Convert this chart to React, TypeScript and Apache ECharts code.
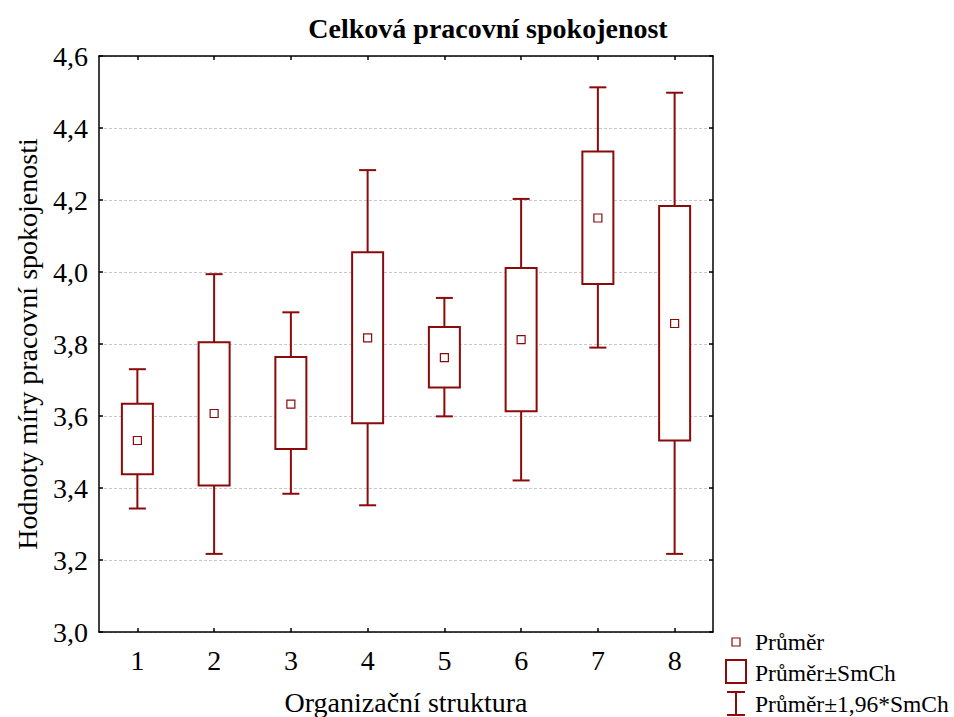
import React, { useEffect, useRef } from "react";
import * as echarts from "echarts";

const categories = ["1", "2", "3", "4", "5", "6", "7", "8"];
const whiskerLow = [3.343, 3.217, 3.384, 3.352, 3.599, 3.421, 3.79, 3.217];
const boxLow = [3.438, 3.407, 3.508, 3.58, 3.679, 3.613, 3.967, 3.532];
const means = [3.532, 3.607, 3.633, 3.817, 3.762, 3.812, 4.15, 3.857];
const boxHigh = [3.634, 3.805, 3.764, 4.055, 3.847, 4.011, 4.335, 4.183];
const whiskerHigh = [3.73, 3.994, 3.888, 4.283, 3.928, 4.203, 4.513, 4.498];
const yTicks = [3.0, 3.2, 3.4, 3.6, 3.8, 4.0, 4.2, 4.4, 4.6];

const RED = "#8b0a0a";
const FONT = "Liberation Serif";

export default function App() {
  const ref = useRef<HTMLDivElement>(null);
  useEffect(() => {
    if (!ref.current) return;
    const chart = echarts.init(ref.current, null, { renderer: "svg" });
    const data = categories.map((c, i) => [
      i,
      whiskerLow[i],
      boxLow[i],
      means[i],
      boxHigh[i],
      whiskerHigh[i],
    ]);
    const axisLine = { show: true, lineStyle: { color: "#000", width: 1.5 } };
    const tick = { show: true, inside: true, length: 4, lineStyle: { color: "#000", width: 1.5 } };
    const option: any = {
      animation: false,
      backgroundColor: "#fff",
      title: {
        text: "Celková pracovní spokojenost",
        left: 483,
        top: 9,
        textAlign: "center",
        textStyle: { fontFamily: FONT, fontWeight: "bold", fontSize: 28, color: "#000" },
      },
      grid: { left: 99, right: 241, top: 56, bottom: 85 },
      xAxis: [
        {
          type: "category",
          data: categories,
          position: "bottom",
          axisLine,
          axisTick: { ...tick, alignWithLabel: true },
          axisLabel: { fontFamily: FONT, fontSize: 28, color: "#000", margin: 14 },
          splitLine: { show: false },
        },
        {
          type: "category",
          data: categories,
          position: "top",
          axisLine,
          axisTick: { ...tick, alignWithLabel: true },
          axisLabel: { show: false },
          splitLine: { show: false },
        },
      ],
      yAxis: [
        {
          type: "value",
          min: 3.0,
          max: 4.6,
          interval: 0.2,
          position: "left",
          axisLine,
          axisTick: tick,
          axisLabel: {
            fontFamily: FONT,
            fontSize: 28,
            color: "#000",
            margin: 11,
            formatter: (v: number) => {
              const t = yTicks.find((x) => Math.abs(x - v) < 1e-6);
              return (t !== undefined ? t : v).toFixed(1).replace(".", ",");
            },
          },
          splitLine: { show: true, lineStyle: { color: "#c8c8c8", type: [3, 2], width: 1 } },
        },
        {
          type: "value",
          min: 3.0,
          max: 4.6,
          interval: 0.2,
          position: "right",
          axisLine,
          axisTick: tick,
          axisLabel: { show: false },
          splitLine: { show: false },
        },
      ],
      series: [
        {
          type: "custom",
          xAxisIndex: 0,
          yAxisIndex: 0,
          data,
          renderItem: (params: any, api: any) => {
            const x = api.value(0);
            const pWL = api.coord([x, api.value(1)]);
            const pBL = api.coord([x, api.value(2)]);
            const pM = api.coord([x, api.value(3)]);
            const pBH = api.coord([x, api.value(4)]);
            const pWH = api.coord([x, api.value(5)]);
            const cx = pM[0];
            const bw = 31;
            const cw = 17;
            const ms = 8;
            const ls = { stroke: RED, lineWidth: 2 };
            return {
              type: "group",
              children: [
                { type: "line", shape: { x1: cx, y1: pWH[1], x2: cx, y2: pBH[1] }, style: ls },
                { type: "line", shape: { x1: cx, y1: pBL[1], x2: cx, y2: pWL[1] }, style: ls },
                { type: "line", shape: { x1: cx - cw / 2, y1: pWH[1], x2: cx + cw / 2, y2: pWH[1] }, style: ls },
                { type: "line", shape: { x1: cx - cw / 2, y1: pWL[1], x2: cx + cw / 2, y2: pWL[1] }, style: ls },
                {
                  type: "rect",
                  shape: { x: cx - bw / 2, y: pBH[1], width: bw, height: pBL[1] - pBH[1] },
                  style: { fill: "#fff", stroke: RED, lineWidth: 2 },
                },
                {
                  type: "rect",
                  shape: { x: cx - ms / 2, y: pM[1] - ms / 2, width: ms, height: ms },
                  style: { fill: "#fff", stroke: RED, lineWidth: 1.2 },
                },
              ],
            };
          },
        },
      ],
      graphic: [
        {
          type: "text",
          x: 27,
          y: 344,
          rotation: Math.PI / 2,
          style: {
            text: "Hodnoty míry pracovní spokojenosti",
            fontFamily: FONT,
            fontSize: 28,
            fill: "#000",
            align: "center",
            verticalAlign: "middle",
          },
        },
        {
          type: "text",
          x: 406,
          y: 702,
          style: {
            text: "Organizační struktura",
            fontFamily: FONT,
            fontSize: 28,
            fill: "#000",
            align: "center",
            verticalAlign: "middle",
          },
        },
        // legend: mean
        { type: "rect", shape: { x: 732, y: 638, width: 8, height: 8 }, style: { fill: "#fff", stroke: RED, lineWidth: 1.2 } },
        { type: "text", x: 755, y: 642, style: { text: "Průměr", fontFamily: FONT, fontSize: 23.5, fill: "#000", verticalAlign: "middle" } },
        // legend: box
        { type: "rect", shape: { x: 726, y: 660, width: 20, height: 23 }, style: { fill: "#fff", stroke: RED, lineWidth: 2 } },
        { type: "text", x: 755, y: 673, style: { text: "Průměr±SmCh", fontFamily: FONT, fontSize: 23.5, fill: "#000", verticalAlign: "middle" } },
        // legend: whisker
        { type: "line", shape: { x1: 727, y1: 692, x2: 745, y2: 692 }, style: { stroke: RED, lineWidth: 2 } },
        { type: "line", shape: { x1: 736, y1: 692, x2: 736, y2: 715 }, style: { stroke: RED, lineWidth: 2 } },
        { type: "line", shape: { x1: 727, y1: 715, x2: 745, y2: 715 }, style: { stroke: RED, lineWidth: 2 } },
        { type: "text", x: 755, y: 704, style: { text: "Průměr±1,96*SmCh", fontFamily: FONT, fontSize: 23.5, fill: "#000", verticalAlign: "middle" } },
      ],
    };
    chart.setOption(option);
    return () => chart.dispose();
  }, []);
  return <div ref={ref} style={{ width: 954, height: 717, position: "absolute", left: 0, top: 0 }} />;
}
